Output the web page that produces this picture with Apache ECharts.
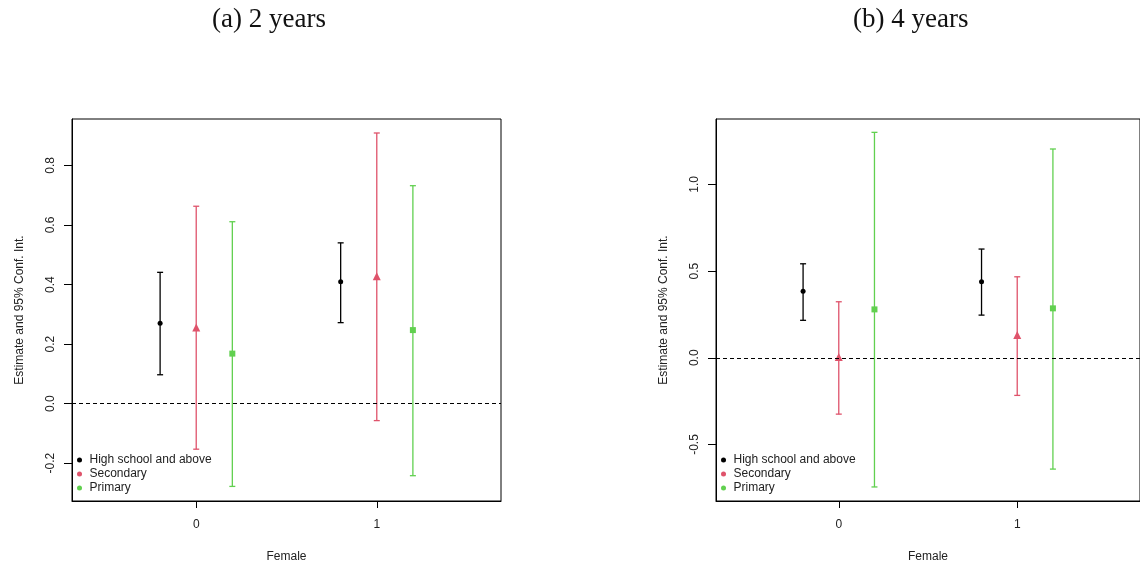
<!DOCTYPE html>
<html>
<head>
<meta charset="utf-8">
<script src="https://cdn.jsdelivr.net/npm/echarts@6/dist/echarts.min.js"></script>
<style>
  html, body { margin: 0; padding: 0; background: #fff; }
  #chart { width: 1140px; height: 568px; }
</style>
</head>
<body>
<div id="chart"></div>
<script>
// ---- data ----
const groups = ['High school and above', 'Secondary', 'Primary'];
const groupColors = ['#000000', '#DF536B', '#61D04F'];
const groupSymbols = ['circle', 'triangle', 'rect'];
const female = [0, 1];            // x categories
const dodge = [-0.2, 0, 0.2];     // x offset of each group around a category

// Panel (a): 2 years  — rows: groups, columns: Female = 0, 1
const est2 = [[0.270, 0.409], [0.256, 0.428], [0.168, 0.247]];
const lo2  = [[0.097, 0.272], [-0.153, -0.057], [-0.278, -0.242]];
const hi2  = [[0.441, 0.540], [0.663, 0.909], [0.611, 0.732]];

// Panel (b): 4 years
const est4 = [[0.383, 0.438], [0.004, 0.131], [0.279, 0.285]];
const lo4  = [[0.216, 0.246], [-0.325, -0.217], [-0.745, -0.642]];
const hi4  = [[0.542, 0.627], [0.323, 0.467], [1.300, 1.204]];

const yTicks2 = [-0.2, 0.0, 0.2, 0.4, 0.6, 0.8];
const yTicks4 = [-0.5, 0.0, 0.5, 1.0];
const xTicks = [0, 1];

const titles = ['(a) 2 years', '(b) 4 years'];
const yName = 'Estimate and 95% Conf. Int.';
const xName = 'Female';

// ---- chart ----
const FONT = "'Liberation Sans', Arial, Helvetica, sans-serif";
const chart = echarts.init(document.getElementById('chart'), null, { renderer: 'canvas' });

function errRender(color) {
  return function (params, api) {
    const x = api.value(0);
    const pLo = api.coord([x, api.value(1)]);
    const pHi = api.coord([x, api.value(2)]);
    const cx = pLo[0];
    const cw = 3;
    const style = { stroke: color, lineWidth: 1.3, fill: null, opacity: 1 };
    return {
      type: 'group',
      children: [
        { type: 'line', shape: { x1: cx, y1: pLo[1], x2: cx, y2: pHi[1] }, style },
        { type: 'line', shape: { x1: cx - cw, y1: pHi[1], x2: cx + cw, y2: pHi[1] }, style },
        { type: 'line', shape: { x1: cx - cw, y1: pLo[1], x2: cx + cw, y2: pLo[1] }, style }
      ]
    };
  };
}

const panels = [
  { est: est2, lo: lo2, hi: hi2, ticks: yTicks2, ymin: -0.327, ymax: 0.956, left: 72 },
  { est: est4, lo: lo4, hi: hi4, ticks: yTicks4, ymin: -0.826, ymax: 1.377, left: 716 }
];

const grid = [], xAxis = [], yAxis = [], series = [], legend = [], title = [];
const titleLeft = [212, 853];
const symSizes = [5, 8, 6];

panels.forEach((p, pi) => {
  grid.push({ left: p.left, top: 119, width: 429, height: 382, show: true,
              borderColor: '#000', borderWidth: 1, backgroundColor: 'transparent' });
  xAxis.push({
    type: 'value', gridIndex: pi, min: -0.688, max: 1.688,
    name: xName, nameLocation: 'middle', nameGap: 50,
    nameTextStyle: { fontFamily: FONT, fontSize: 12, color: '#222' },
    axisLine: { show: true, onZero: false, lineStyle: { color: '#000', width: 1 } },
    axisTick: { show: true, customValues: xTicks, length: 7, lineStyle: { color: '#000' } },
    axisLabel: { customValues: xTicks, fontFamily: FONT, fontSize: 12, color: '#222', margin: 18,
                 formatter: v => String(v) },
    splitLine: { show: false }
  });
  yAxis.push({
    type: 'value', gridIndex: pi, min: p.ymin, max: p.ymax,
    name: yName, nameLocation: 'middle', nameGap: 46, nameRotate: 90,
    nameTextStyle: { fontFamily: FONT, fontSize: 12, color: '#222' },
    axisLine: { show: true, onZero: false, lineStyle: { color: '#000', width: 1 } },
    axisTick: { show: true, customValues: p.ticks, length: 8, lineStyle: { color: '#000' } },
    axisLabel: { customValues: p.ticks, rotate: 90, fontFamily: FONT, fontSize: 12, color: '#222',
                 margin: 15, formatter: v => v.toFixed(1) },
    splitLine: { show: false }
  });
  title.push({ text: titles[pi], left: titleLeft[pi], top: 6, padding: 0,
               textStyle: { fontFamily: "'Liberation Serif', 'Times New Roman', serif", fontSize: 27,
                            fontWeight: 'normal', color: '#111' } });
  legend.push({
    orient: 'vertical', left: p.left + 5, top: 454, padding: 0, itemGap: 2,
    itemWidth: 10, itemHeight: 5, selectedMode: false,
    textStyle: { fontFamily: FONT, fontSize: 12, color: '#222' },
    data: groups.map(g => ({ name: g, icon: 'circle' }))
  });

  groups.forEach((g, gi) => {
    series.push({
      type: 'custom', name: g + ' CI ' + pi, xAxisIndex: pi, yAxisIndex: pi,
      renderItem: errRender(groupColors[gi]),
      data: female.map((f, k) => [f + dodge[gi], p.lo[gi][k], p.hi[gi][k]]),
      silent: true, z: 2
    });
  });
  groups.forEach((g, gi) => {
    const s = {
      type: 'scatter', name: g, xAxisIndex: pi, yAxisIndex: pi,
      symbol: groupSymbols[gi], symbolSize: symSizes[gi],
      itemStyle: { color: groupColors[gi], opacity: 1 },
      data: female.map((f, k) => [f + dodge[gi], p.est[gi][k]]),
      silent: true, z: 3
    };
    if (gi === 0) {
      s.markLine = {
        silent: true, symbol: ['none', 'none'], label: { show: false },
        lineStyle: { type: [4, 3], color: '#000', width: 1 },
        data: [{ yAxis: 0 }]
      };
    }
    series.push(s);
  });
});

chart.setOption({
  animation: false,
  backgroundColor: '#fff',
  title, grid, xAxis, yAxis, legend, series
});
</script>
</body>
</html>
